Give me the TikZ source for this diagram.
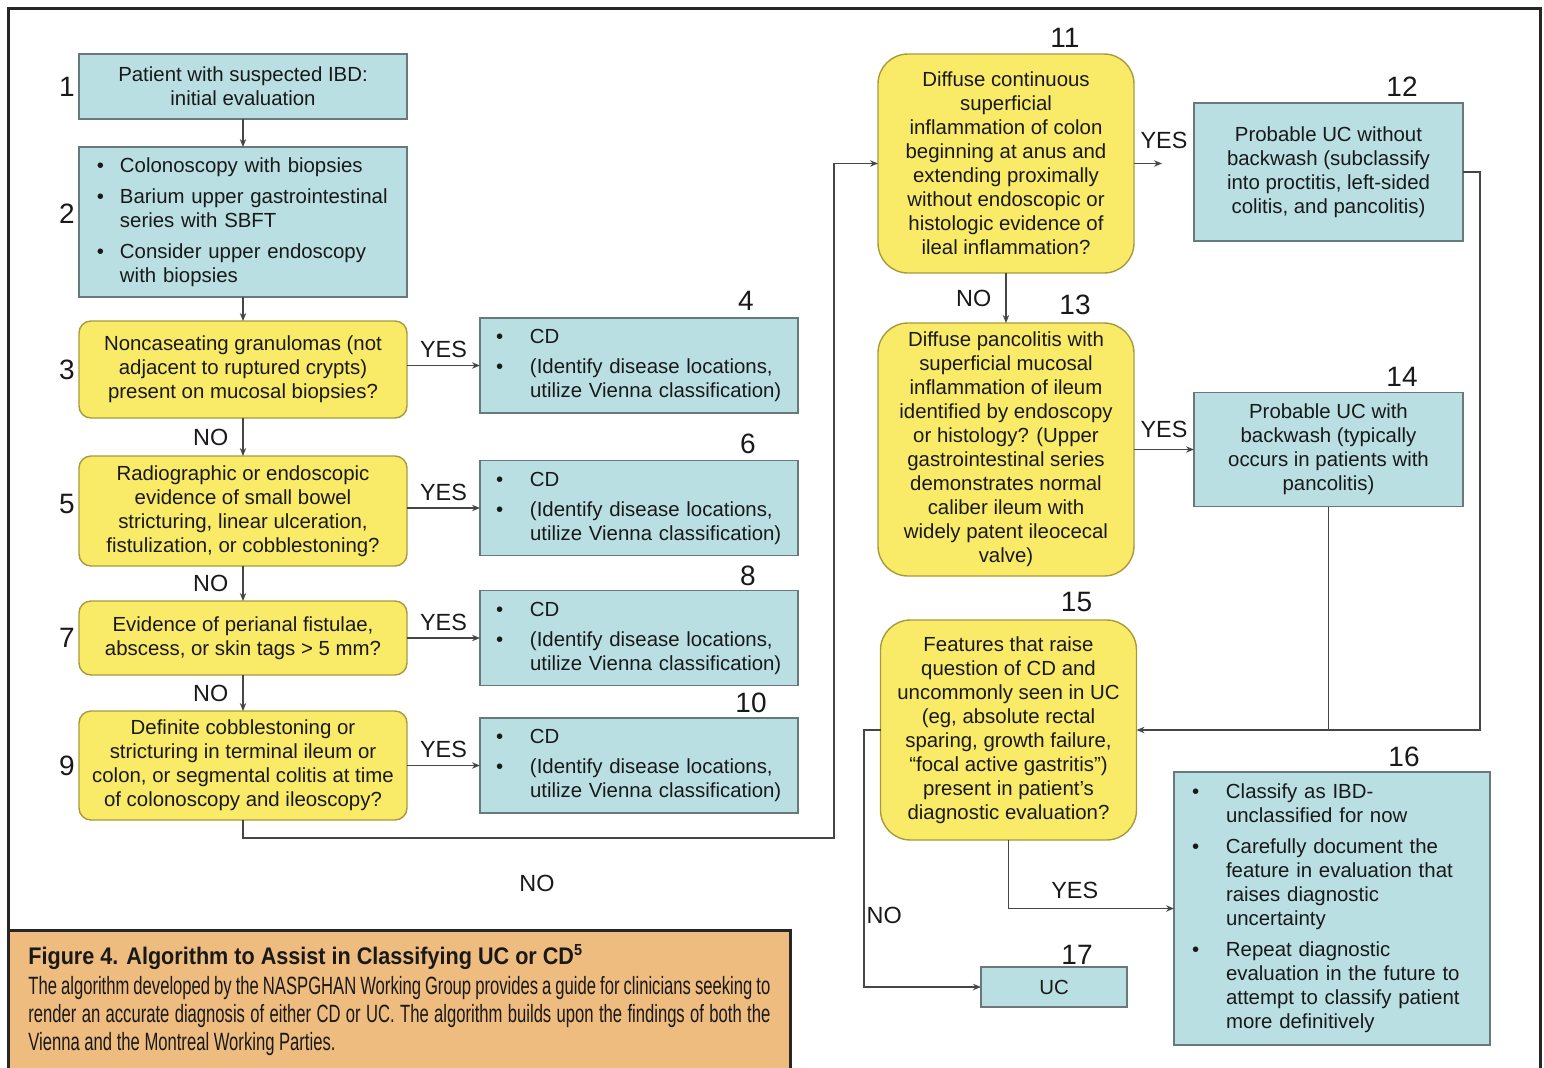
\documentclass[tikz,border=0pt]{standalone}
\usepackage{fontspec}
\setmainfont{Liberation Sans}
\newfontfamily\capfont[FakeStretch=0.665]{Liberation Sans}
\newfontfamily\captitlefont[FakeStretch=0.9]{Liberation Sans}
\usepackage{tikz}
\usetikzlibrary{arrows.meta, positioning, calc}

\definecolor{boxblue}{RGB}{186,223,227}
\definecolor{qyellow}{RGB}{249,235,104}
\definecolor{qedge}{RGB}{168,154,60}
\definecolor{bedge}{RGB}{105,120,122}
\definecolor{lineg}{RGB}{70,70,70}
\definecolor{capbg}{RGB}{238,188,126}

\newcommand{\bodyfont}{\fontsize{10.2}{12}\selectfont}
\newcommand{\numfont}{\fontsize{14}{14}\selectfont}
\newcommand{\lblfont}{\fontsize{11.7}{12}\selectfont}
\newcommand{\bul}[1][17pt]{\makebox[#1][l]{\textbullet}}
\newcommand{\ind}[1][17pt]{\hspace*{#1}}
\newcommand{\capline}[1]{\makebox[371pt][s]{#1}}

\tikzset{
  block/.style={rectangle, draw=bedge, fill=boxblue, line width=0.7pt,
                align=center, font=\bodyfont, inner sep=3pt, outer sep=0pt,
                text=black!90},
  blockL/.style={block, minimum width=164pt},
  cdbox/.style={block, align=left, text width=143pt, inner xsep=8pt,
                minimum height=47.5pt},
  ask/.style={rectangle, rounded corners=6pt, draw=qedge, fill=qyellow,
              line width=0.7pt, align=center, font=\bodyfont, inner sep=3pt,
              outer sep=0pt, minimum width=164pt, text=black!90},
  askR/.style={ask, rounded corners=15pt, minimum width=128pt},
  num/.style={font=\numfont, inner sep=0pt, text=black!90},
  lbl/.style={font=\lblfont, inner sep=2pt, text=black!90},
  arrow/.style={-{Stealth[length=4pt,width=3.2pt]}, line width=0.7pt, draw=lineg},
  link/.style={line width=0.7pt, draw=lineg},
  frame/.style={line width=1.5pt, draw=black!85},
  captext/.style={align=left, inner sep=0pt, text=black!90,
                  font=\capfont\fontsize{12.5}{14}\selectfont},
}

\begin{document}
\begin{tikzpicture}[x=0.5pt, y=-0.5pt]

  \useasboundingbox (0,0) rectangle (1544,1067);

  % --- Frame and caption ---
  \draw[frame] (8,1075) -- (8,8) -- (1540,8) -- (1540,1075);
  \draw[frame, fill=capbg] (8,930) rectangle (790,1080);

  % --- Left column ---
  \node[blockL, minimum height=32.5pt] (n1) at (243,86.5)
    {Patient with suspected IBD:\\initial evaluation};

  \node[block, below=14pt of n1, align=left, text width=146pt, inner xsep=9pt,
        minimum height=75pt] (n2)
    {\bul[11.5pt]Colonoscopy with biopsies\\[3.5pt]
     \bul[11.5pt]Barium upper gastrointestinal\\\ind[11.5pt]series with SBFT\\[3.5pt]
     \bul[11.5pt]Consider upper endoscopy\\\ind[11.5pt]with biopsies};

  \node[ask, below=12pt of n2, minimum height=48.5pt] (n3)
    {Noncaseating granulomas (not\\adjacent to ruptured crypts)\\present on mucosal biopsies?};

  \node[ask, below=19pt of n3, minimum height=55pt] (n5)
    {Radiographic or endoscopic\\evidence of small bowel\\stricturing, linear ulceration,\\fistulization, or cobblestoning?};

  \node[ask, below=17.5pt of n5, minimum height=37pt] (n7)
    {Evidence of perianal fistulae,\\abscess, or skin tags > 5 mm?};

  \node[ask, below=18pt of n7, minimum height=54.5pt] (n9)
    {Definite cobblestoning or\\stricturing in terminal ileum or\\colon, or segmental colitis at time\\of colonoscopy and ileoscopy?};

  % --- CD boxes ---
  \node[cdbox, right=36.5pt of n3, yshift=2pt] (n4)
    {\bul CD\\[3pt]\bul(Identify disease locations,\\\ind utilize Vienna classification)};
  \node[cdbox, right=36.5pt of n5, yshift=1.5pt] (n6)
    {\bul CD\\[3pt]\bul(Identify disease locations,\\\ind utilize Vienna classification)};
  \node[cdbox, right=36.5pt of n7] (n8)
    {\bul CD\\[3pt]\bul(Identify disease locations,\\\ind utilize Vienna classification)};
  \node[cdbox, right=36.5pt of n9] (n10)
    {\bul CD\\[3pt]\bul(Identify disease locations,\\\ind utilize Vienna classification)};

  % --- Right column ---
  \node[askR, minimum height=109.5pt] (n11) at (1006,163.5)
    {Diffuse continuous\\superficial\\inflammation of colon\\beginning at anus and\\extending proximally\\without endoscopic or\\histologic evidence of\\ileal inflammation?};

  \node[askR, below=25pt of n11, minimum height=126.5pt] (n13)
    {Diffuse pancolitis with\\superficial mucosal\\inflammation of ileum\\identified by endoscopy\\or histology? (Upper\\gastrointestinal series\\demonstrates normal\\caliber ileum with\\widely patent ileocecal\\valve)};

  \node[askR, minimum height=110pt] (n15) at (1008.5,730)
    {Features that raise\\question of CD and\\uncommonly seen in UC\\(eg, absolute rectal\\sparing, growth failure,\\\textquotedblleft focal active gastritis\textquotedblright)\\present in patient's\\diagnostic evaluation?};

  \node[block, right=30pt of n11, yshift=-4.25pt, minimum width=134.5pt,
        minimum height=69pt] (n12)
    {Probable UC without\\backwash (subclassify\\into proctitis, left-sided\\colitis, and pancolitis)};

  \node[block, right=30pt of n13, minimum width=134.5pt, minimum height=57pt] (n14)
    {Probable UC with\\backwash (typically\\occurs in patients with\\pancolitis)};

  \node[block, align=left, text width=140pt, inner xsep=9pt,
        minimum height=136.5pt] (n16) at (1332,908.5)
    {\bul Classify as IBD-\\\ind unclassified for now\\[3.5pt]
     \bul Carefully document the\\\ind feature in evaluation that\\\ind raises diagnostic\\\ind uncertainty\\[3.5pt]
     \bul Repeat diagnostic\\\ind evaluation in the future to\\\ind attempt to classify patient\\\ind more definitively};

  \node[block, minimum width=73pt, minimum height=20pt] (n17) at (1054,987) {UC};

  % --- Step numbers ---
  \node[num, left=2pt of n1] (k1) {1};
  \node[num, left=2pt of n2, yshift=4pt] (k2) {2};
  \node[num, left=2pt of n3] (k3) {3};
  \node[num, left=2pt of n5, yshift=3.5pt] (k5) {5};
  \node[num, left=2pt of n7] (k7) {7};
  \node[num, left=2pt of n9] (k9) {9};
  \node[num, above=3.5pt of n4.north east, xshift=-26pt] (k4) {4};
  \node[num, above=3pt of n6.north east, xshift=-25pt] (k6) {6};
  \node[num, above=2pt of n8.north east, xshift=-25pt] (k8) {8};
  \node[num, above=2.5pt of n10.north east, xshift=-23.5pt] (k10) {10};
  \node[num, above=3pt of n11.north east, xshift=-34.5pt] (k11) {11};
  \node[num, above=3pt of n12.north east, xshift=-30.5pt] (k12) {12};
  \node[num, above=4pt of n13.north east, xshift=-29.5pt] (k13) {13};
  \node[num, above=3pt of n14.north east, xshift=-30.5pt] (k14) {14};
  \node[num, above=4pt of n15.north east, xshift=-30pt] (k15) {15};
  \node[num, above=2.5pt of n16.north east, xshift=-43pt] (k16) {16};
  \node[num, above=1pt of n17.north east, xshift=-25pt] (k17) {17};

  % --- Edges ---
  \coordinate (c9) at (834,838);
  \coordinate (c15) at (864,730);

  \draw[arrow] (n1) -- (n2);
  \draw[arrow] (n2) -- (n3);
  \draw[arrow] (n3) -- node[lbl, left=5pt] (no3) {NO} (n5);
  \draw[arrow] (n5) -- node[lbl, left=5pt] (no5) {NO} (n7);
  \draw[arrow] (n7) -- node[lbl, left=5pt] (no7) {NO} (n9);
  \draw[arrow] (n3.east |- n4.west) -- node[lbl, above=1.5pt] (yes3) {YES} (n4.west);
  \draw[arrow] (n5.east |- n6.west) -- node[lbl, above=1.5pt] (yes5) {YES} (n6.west);
  \draw[arrow] (n7.east |- n8.west) -- node[lbl, above=1.5pt] (yes7) {YES} (n8.west);
  \draw[arrow] (n9.east |- n10.west) -- node[lbl, above=1.5pt] (yes9) {YES} (n10.west);
  \draw[arrow] (n9.south) |- (c9) |- (n11.west);
  \node[lbl] (no9) at (537,883) {NO};

  \draw[arrow, shorten >=16pt] (n11.east) -- node[lbl, above=5pt] (yes11) {YES}
    (n11.east -| n12.west);
  \draw[arrow] (n11) -- node[lbl, left=5pt] (no11) {NO} (n13);
  \draw[arrow] (n13.east |- n14.west) -- node[lbl, above=3.5pt] (yes13) {YES} (n14.west);
  \draw[arrow] (n12.east) -- ++(17,0) |- (n15.east);
  \draw[link] (n14.south) -- (n14.south |- n15.east);
  \draw[arrow] (n15.south) |- node[lbl, above=2.5pt, pos=0.7] (yes15) {YES} (n16.west);
  \draw[arrow] (n15.west) -- (c15) |- node[lbl, anchor=west, pos=0.36, inner sep=1pt] (no15) {NO} (n17.west);

  % --- Caption ---
  \node[captext, anchor=north west] (cap) at (28,944)
    {{\captitlefont\bfseries\fontsize{12}{14}\selectfont Figure 4. Algorithm to Assist in Classifying UC or CD\textsuperscript{5}}\\[1pt]
     \capline{The algorithm developed by the NASPGHAN Working Group provides a guide for clinicians seeking to}\\
     \capline{render an accurate diagnosis of either CD or UC. The algorithm builds upon the findings of both the}\\
     Vienna and the Montreal Working Parties.};

\end{tikzpicture}
\end{document}
